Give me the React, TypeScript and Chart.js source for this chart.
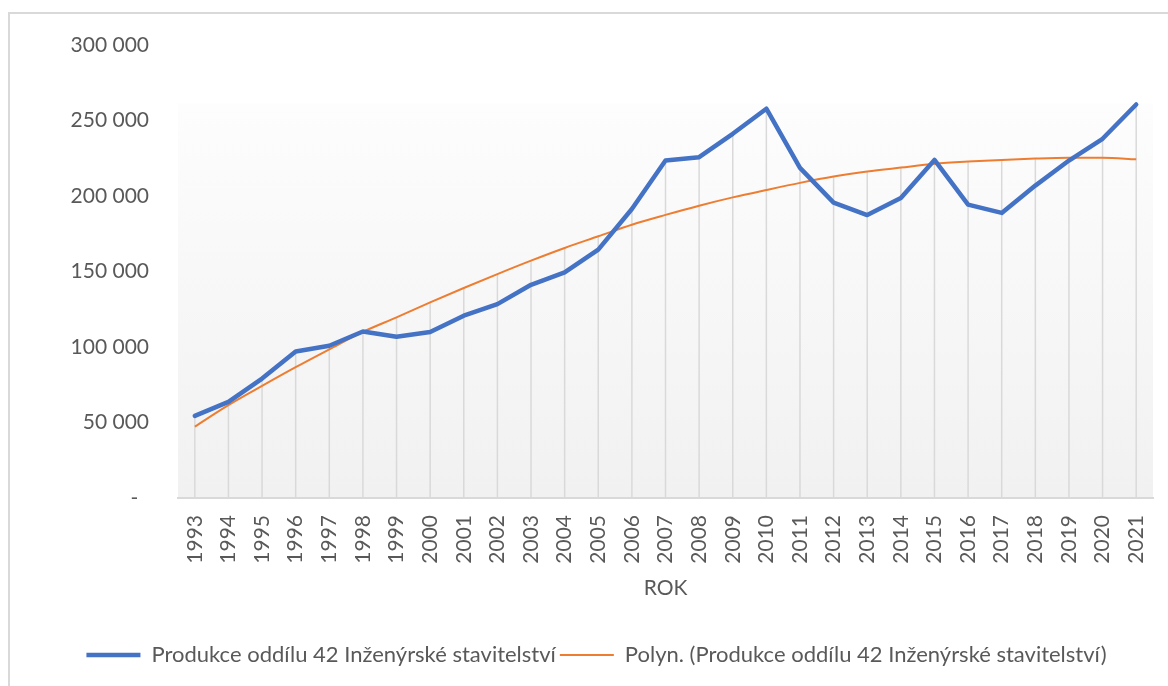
import React, { useEffect, useRef } from 'react';
import { Chart, registerables } from 'chart.js';

Chart.register(...registerables);

const years = ['1993', '1994', '1995', '1996', '1997', '1998', '1999', '2000', '2001', '2002', '2003', '2004', '2005', '2006', '2007', '2008', '2009', '2010', '2011', '2012', '2013', '2014', '2015', '2016', '2017', '2018', '2019', '2020', '2021'];

const production = [54400, 63700, 79100, 97000, 100800, 110300, 106800, 109900, 120700, 128400, 141200, 149400, 164500, 191400, 223500, 225700, 241200, 257800, 218600, 195600, 187400, 198700, 223900, 194300, 188800, 206900, 223500, 237900, 260600];

const trend = [47300, 61500, 74200, 86600, 98400, 110000, 119600, 129500, 139100, 148300, 157200, 165600, 173300, 181000, 187500, 193600, 199100, 204000, 208700, 212900, 216200, 218800, 221300, 222800, 223900, 224800, 225300, 225300, 224300];

const yTicks = [0, 50000, 100000, 150000, 200000, 250000, 300000];

const seriesLabel = 'Produkce oddílu 42 Inženýrské stavitelství';
const trendLabel = 'Polyn. (Produkce oddílu 42 Inženýrské stavitelství)';
const xTitle = 'ROK';

const FONT = 'Lato';
const TEXT = '#595959';
const BG_TOP_VALUE = 261300;
const LEGEND_SHIFT = 20;

const fmt = (v: number) => {
  if (v === 0) return '-  ';
  return String(v).replace(/\B(?=(\d{3})+(?!\d))/g, ' ');
};

const bgPlugin = {
  id: 'bgGradient',
  afterLayout(chart: any) {
    if (chart.legend) {
      chart.legend.left += LEGEND_SHIFT;
      chart.legend.right += LEGEND_SHIFT;
    }
  },
  beforeDraw(chart: any) {
    const { ctx, chartArea, scales } = chart;
    const top = scales.y.getPixelForValue(BG_TOP_VALUE);
    const bottom = chartArea.bottom;
    const g = ctx.createLinearGradient(0, top, 0, bottom);
    g.addColorStop(0, '#fdfdfd');
    g.addColorStop(1, '#f1f1f1');
    ctx.save();
    ctx.fillStyle = g;
    ctx.fillRect(chartArea.left, top, chartArea.right - chartArea.left, bottom - top);
    ctx.restore();
  },
};

const dropLinesPlugin = {
  id: 'dropLines',
  beforeDatasetsDraw(chart: any) {
    const { ctx, chartArea, scales } = chart;
    ctx.save();
    ctx.strokeStyle = '#d9d9d9';
    ctx.lineWidth = 1.5;
    years.forEach((_, i) => {
      const x = scales.x.getPixelForValue(i);
      const y = scales.y.getPixelForValue(Math.max(production[i], trend[i]));
      ctx.beginPath();
      ctx.moveTo(x, y);
      ctx.lineTo(x, chartArea.bottom);
      ctx.stroke();
    });
    ctx.restore();
  },
};

export default function App() {
  const ref = useRef<HTMLCanvasElement | null>(null);

  useEffect(() => {
    if (!ref.current) return;
    const chart = new Chart(ref.current, {
      type: 'line',
      data: {
        labels: years,
        datasets: [
          {
            label: seriesLabel,
            data: production,
            borderColor: '#4472C4',
            backgroundColor: '#4472C4',
            borderWidth: 4.5,
            pointRadius: 0,
            borderCapStyle: 'round',
            borderJoinStyle: 'round',
            tension: 0,
          },
          {
            label: trendLabel,
            data: trend,
            borderColor: '#ED7D31',
            backgroundColor: '#ED7D31',
            borderWidth: 2,
            pointRadius: 0,
            cubicInterpolationMode: 'monotone',
          },
        ],
      },
      options: {
        responsive: false,
        animation: false,
        devicePixelRatio: 1,
        layout: { padding: { left: 0, right: 15, top: 45, bottom: 10 } },
        plugins: {
          tooltip: { enabled: false },
          legend: {
            position: 'bottom',
            labels: {
              usePointStyle: true,
              pointStyle: 'line',
              pointStyleWidth: 54,
              color: TEXT,
              padding: 4,
              font: { family: FONT, size: 22 },
            },
          },
        },
        scales: {
          x: {
            offset: true,
            grid: { display: false, drawTicks: false },
            border: { display: true, color: '#d9d9d9', width: 2 },
            ticks: {
              color: TEXT,
              font: { family: FONT, size: 21 },
              maxRotation: 90,
              minRotation: 90,
              padding: 17,
              autoSkip: false,
            },
            title: {
              display: true,
              text: xTitle,
              color: TEXT,
              font: { family: FONT, size: 21 },
              padding: { top: 0, bottom: 39 },
            },
            afterFit(scale: any) {
              scale.height = 142;
              scale.paddingRight = 0;
              scale.paddingLeft = 0;
            },
          },
          y: {
            min: 0,
            max: 300000,
            grid: { display: false, drawTicks: false },
            border: { display: false },
            afterBuildTicks(scale: any) {
              scale.ticks = yTicks.map((v) => ({ value: v }));
            },
            ticks: {
              color: TEXT,
              font: { family: FONT, size: 21 },
              padding: 29,
              callback: (v: any) => fmt(Number(v)),
            },
            afterFit(scale: any) {
              scale.width = 178;
            },
          },
        },
      },
      plugins: [bgPlugin, dropLinesPlugin],
    } as any);
    return () => chart.destroy();
  }, []);

  return (
    <div style={{ position: 'fixed', left: 0, top: 0, width: 1168, height: 686, overflow: 'hidden', background: '#fff' }}>
      <div
        style={{
          position: 'absolute',
          left: 8,
          top: 12,
          width: 1200,
          height: 720,
          border: '2px solid #d9d9d9',
          boxSizing: 'border-box',
        }}
      />
      <canvas ref={ref} width={1168} height={686} style={{ position: 'absolute', left: 0, top: 0 }} />
    </div>
  );
}
